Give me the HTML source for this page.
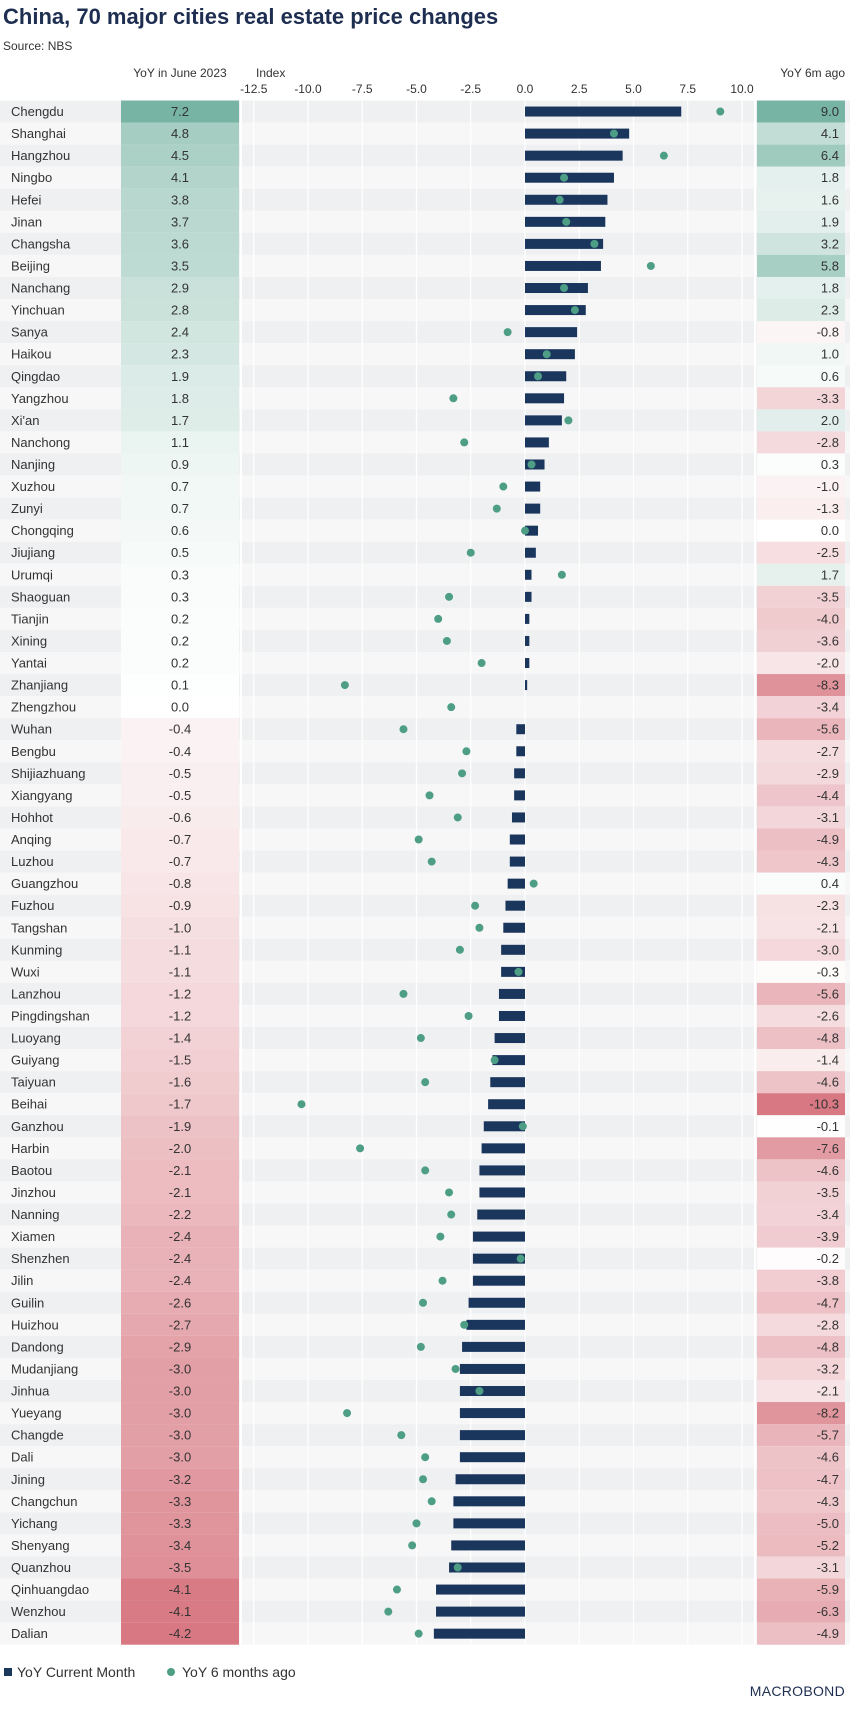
<!DOCTYPE html>
<html><head><meta charset="utf-8">
<style>
html,body{margin:0;padding:0;background:#fff;}
body{width:850px;height:1706px;overflow:hidden;font-family:"Liberation Sans",sans-serif;}
svg text{font-family:"Liberation Sans",sans-serif;}
</style></head>
<body>
<svg id="chart" width="850" height="1706" viewBox="0 0 850 1706" xmlns="http://www.w3.org/2000/svg">
<text x="3" y="24" font-size="22" font-weight="bold" fill="#1d2e50">China, 70 major cities real estate price changes</text>
<text x="3" y="50" font-size="12" fill="#333">Source: NBS</text>
<text x="180" y="77" font-size="12" text-anchor="middle" fill="#333">YoY in June 2023</text>
<text x="256" y="77" font-size="12" fill="#333">Index</text>
<text x="845" y="77" font-size="12" text-anchor="end" fill="#333">YoY 6m ago</text>
<g id="rows"></g>
<g id="legend">
<rect x="4" y="1668" width="8" height="8" fill="#1b365d"/>
<text x="17" y="1677" font-size="14" fill="#333">YoY Current Month</text>
<circle cx="171" cy="1672" r="4" fill="#4e9e86"/>
<text x="182" y="1677" font-size="14" fill="#333">YoY 6 months ago</text>
</g>
<text x="845" y="1696" font-size="14" text-anchor="end" fill="#1d2e50" letter-spacing="0.3">MACROBOND</text>
</svg>
<script>
const cities=["Chengdu","Shanghai","Hangzhou","Ningbo","Hefei","Jinan","Changsha","Beijing","Nanchang","Yinchuan","Sanya","Haikou","Qingdao","Yangzhou","Xi'an","Nanchong","Nanjing","Xuzhou","Zunyi","Chongqing","Jiujiang","Urumqi","Shaoguan","Tianjin","Xining","Yantai","Zhanjiang","Zhengzhou","Wuhan","Bengbu","Shijiazhuang","Xiangyang","Hohhot","Anqing","Luzhou","Guangzhou","Fuzhou","Tangshan","Kunming","Wuxi","Lanzhou","Pingdingshan","Luoyang","Guiyang","Taiyuan","Beihai","Ganzhou","Harbin","Baotou","Jinzhou","Nanning","Xiamen","Shenzhen","Jilin","Guilin","Huizhou","Dandong","Mudanjiang","Jinhua","Yueyang","Changde","Dali","Jining","Changchun","Yichang","Shenyang","Quanzhou","Qinhuangdao","Wenzhou","Dalian"];
const yoyCurrent=[7.2,4.8,4.5,4.1,3.8,3.7,3.6,3.5,2.9,2.8,2.4,2.3,1.9,1.8,1.7,1.1,0.9,0.7,0.7,0.6,0.5,0.3,0.3,0.2,0.2,0.2,0.1,0.0,-0.4,-0.4,-0.5,-0.5,-0.6,-0.7,-0.7,-0.8,-0.9,-1.0,-1.1,-1.1,-1.2,-1.2,-1.4,-1.5,-1.6,-1.7,-1.9,-2.0,-2.1,-2.1,-2.2,-2.4,-2.4,-2.4,-2.6,-2.7,-2.9,-3.0,-3.0,-3.0,-3.0,-3.0,-3.2,-3.3,-3.3,-3.4,-3.5,-4.1,-4.1,-4.2];
const yoy6m=[9.0,4.1,6.4,1.8,1.6,1.9,3.2,5.8,1.8,2.3,-0.8,1.0,0.6,-3.3,2.0,-2.8,0.3,-1.0,-1.3,0.0,-2.5,1.7,-3.5,-4.0,-3.6,-2.0,-8.3,-3.4,-5.6,-2.7,-2.9,-4.4,-3.1,-4.9,-4.3,0.4,-2.3,-2.1,-3.0,-0.3,-5.6,-2.6,-4.8,-1.4,-4.6,-10.3,-0.1,-7.6,-4.6,-3.5,-3.4,-3.9,-0.2,-3.8,-4.7,-2.8,-4.8,-3.2,-2.1,-8.2,-5.7,-4.6,-4.7,-4.3,-5.0,-5.2,-3.1,-5.9,-6.3,-4.9];
const ticks=[-12.5,-10.0,-7.5,-5.0,-2.5,0.0,2.5,5.0,7.5,10.0];

const NS="http://www.w3.org/2000/svg";
const svg=document.getElementById('chart');
const rowsG=document.getElementById('rows');
const x0=525,pxu=21.7;
const X=v=>x0+v*pxu;
const top0=100.5,rowH=22.06;
const Y=i=>top0+i*rowH;
const plotL=241,plotR=755;
function mk(t,a,p){const e=document.createElementNS(NS,t);for(const k in a)e.setAttribute(k,a[k]);(p||svg).appendChild(e);return e;}
function mix(c1,c2,t){return 'rgb('+c1.map((c,i)=>Math.round(c+(c2[i]-c)*t)).join(',')+')';}
const W=[255,255,255],G=[120,180,163],R=[216,120,130];
function colr(v,maxP,maxN){if(v>=0)return mix(W,G,Math.min(1,v/maxP));return mix(W,R,Math.min(1,-v/maxN));}
const maxPc=Math.max(...yoyCurrent),maxNc=-Math.min(...yoyCurrent);
const maxP6=Math.max(...yoy6m),maxN6=-Math.min(...yoy6m);

cities.forEach((c,i)=>{
  const y=Y(i);
  const bg=mk('rect',{x:0,y:y,width:850,height:rowH,fill:i%2===0?'#eff0f2':'#f7f7f8'},rowsG);
  
  
});
ticks.forEach(t=>{
  const l=mk('line',{x1:X(t),x2:X(t),y1:top0,y2:Y(cities.length),stroke:'#ffffff','stroke-width':1.2});
  
  
  const tx=mk('text',{x:X(t),y:93,'font-size':12,'text-anchor':'middle',fill:'#333'});
  tx.textContent=t.toFixed(1);
  
  
});
[plotL,plotR].forEach(xx=>{
  const l=mk('line',{x1:xx,x2:xx,y1:top0,y2:Y(cities.length),stroke:'#ffffff','stroke-width':2});
  
  
});
cities.forEach((c,i)=>{
  const y=Y(i),cy=y+rowH/2;
  const lc=mk('rect',{x:121,y:y,width:118,height:rowH,fill:colr(yoyCurrent[i],maxPc,maxNc)});
  
  
  const rc=mk('rect',{x:757,y:y,width:88,height:rowH,fill:colr(yoy6m[i],maxP6,maxN6)});
  
  
  const nm=mk('text',{x:11,y:cy+4.5,'font-size':13,fill:'#333'});
  nm.textContent=c;
  
  
  const lv=mk('text',{x:180,y:cy+4.5,'font-size':13,'text-anchor':'middle',fill:'#333'});
  lv.textContent=yoyCurrent[i].toFixed(1);
  
  
  const rv=mk('text',{x:839,y:cy+4.5,'font-size':13,'text-anchor':'end',fill:'#333'});
  rv.textContent=yoy6m[i].toFixed(1);
  
  
  const v=yoyCurrent[i];
  const b=mk('rect',{x:Math.min(X(0),X(v)),y:cy-5,width:Math.max(Math.abs(X(v)-X(0)),0.01),height:10,fill:'#1b365d'});
  
  
  const d=mk('circle',{cx:X(yoy6m[i]),cy:cy,r:4,fill:'#4e9e86'});
  
  
});
svg.appendChild(document.getElementById('legend'));
</script>
</body></html>
